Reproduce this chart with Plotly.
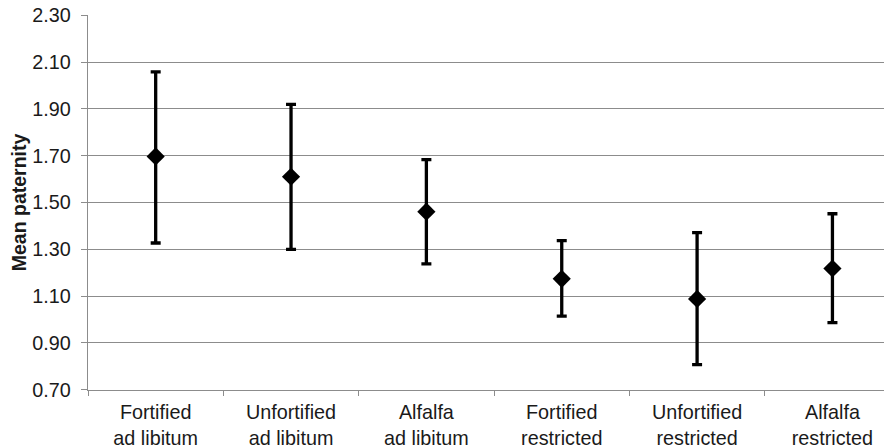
import plotly.graph_objects as go

categories = ["Fortified<br>ad libitum", "Unfortified<br>ad libitum", "Alfalfa<br>ad libitum",
              "Fortified<br>restricted", "Unfortified<br>restricted", "Alfalfa<br>restricted"]
means = [1.697, 1.610, 1.461, 1.174, 1.088, 1.218]
upper = [2.058, 1.919, 1.683, 1.337, 1.371, 1.452]
lower = [1.327, 1.300, 1.238, 1.015, 0.807, 0.987]
y_ticks = [0.70, 0.90, 1.10, 1.30, 1.50, 1.70, 1.90, 2.10, 2.30]

err_plus = [u - m for u, m in zip(upper, means)]
err_minus = [m - l for m, l in zip(means, lower)]

font_family = "Liberation Sans, Arial, sans-serif"
text_color = "#1a1a1a"
grid_color = "#8c8c8c"

fig = go.Figure()
fig.add_trace(go.Scatter(
    x=list(range(len(categories))),
    y=means,
    mode="markers",
    marker=dict(symbol="diamond", size=14, color="black"),
    error_y=dict(type="data", symmetric=False, array=err_plus, arrayminus=err_minus,
                 color="black", thickness=3.3, width=5),
    showlegend=False,
))

# page body adds an 8px offset, so the figure is sized to fill the remaining window
fig.update_layout(
    width=884, height=440,
    margin=dict(l=80, r=0, t=7, b=58),
    paper_bgcolor="white", plot_bgcolor="white",
    font=dict(family=font_family, size=19.8, color=text_color),
    xaxis=dict(
        range=[-0.5, 5.44],
        automargin=False,
        tickmode="array",
        tickvals=list(range(len(categories))),
        ticktext=categories,
        showgrid=False,
        showline=True, linecolor=grid_color, linewidth=1.3,
        zeroline=False,
        ticks="",
        ticklabelstandoff=4,
        ticklabeloverflow="allow",
        tickfont=dict(size=19.8, color=text_color),
    ),
    yaxis=dict(
        range=[0.699, 2.301],
        automargin=False,
        tickmode="array",
        tickvals=y_ticks,
        ticktext=[f"{v:.2f}" for v in y_ticks],
        showgrid=True, gridcolor=grid_color, gridwidth=1.3,
        showline=True, linecolor=grid_color, linewidth=1.3,
        zeroline=False,
        ticks="outside", ticklen=6, tickcolor=grid_color, tickwidth=1.3,
        ticklabelstandoff=6,
        ticklabeloverflow="allow",
        tickfont=dict(size=19.8, color=text_color),
        title=dict(text="<b>Mean paternity</b>", font=dict(size=19.5, color=text_color), standoff=14),
    ),
)

# category boundary ticks on x axis (drawn as an overlaid axis)
fig.update_layout(
    xaxis2=dict(
        overlaying="x", matches="x", side="bottom", anchor="y",
        automargin=False,
        tickmode="array",
        tickvals=[i - 0.5 for i in range(len(categories) + 1)],
        ticktext=[""] * (len(categories) + 1),
        ticks="outside", ticklen=5, tickcolor=grid_color, tickwidth=1.3,
        showgrid=False, showline=False, zeroline=False,
    )
)
fig.add_trace(go.Scatter(x=[0], y=[None], xaxis="x2", showlegend=False, hoverinfo="skip"))

fig.write_html("out.html")
